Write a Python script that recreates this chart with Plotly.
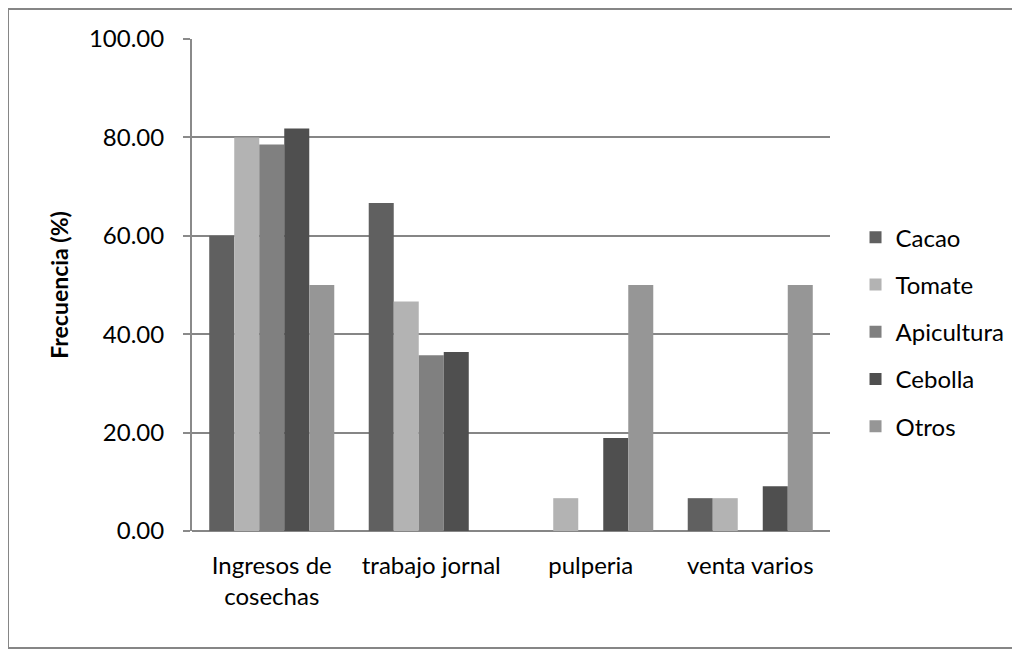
import plotly.graph_objects as go

categories = ["Ingresos de<br>cosechas", "trabajo jornal", "pulperia", "venta varios"]
series_names = ["Cacao", "Tomate", "Apicultura", "Cebolla", "Otros"]
cacao = [60.00, 66.67, 0.0, 6.67]
tomate = [80.00, 46.67, 6.67, 6.67]
apicultura = [78.57, 35.71, 0.0, 0.0]
cebolla = [81.82, 36.36, 18.92, 9.09]
otros = [50.00, 0.0, 50.00, 50.00]
colors = ["#606060", "#b3b3b3", "#808080", "#4f4f4f", "#969696"]
y_ticks = [0, 20, 40, 60, 80, 100]
y_ticklabels = ["0.00", "20.00", "40.00", "60.00", "80.00", "100.00"]

FONT = "Lato, 'Open Sans', sans-serif"

fig = go.Figure()
for i, (name, vals, col) in enumerate(zip(series_names, [cacao, tomate, apicultura, cebolla, otros], colors)):
    fig.add_trace(go.Bar(name=name, x=categories, y=vals, legendgroup=f"g{i}",
                         marker=dict(color=col, line=dict(width=0))))

fig.update_layout(
    width=1012, height=642,
    margin=dict(l=184, r=190, t=31, b=119, autoexpand=False),
    paper_bgcolor="white", plot_bgcolor="white",
    barmode="group", bargap=0.216, bargroupgap=0,
    font=dict(family=FONT, size=24, color="#000000"),
    legend=dict(x=1.04, y=0.405, xanchor="left", yanchor="middle",
                font=dict(size=24), tracegroupgap=13, itemsizing="constant",
                traceorder="grouped"),
    xaxis=dict(showgrid=False, showline=False, ticks="", tickfont=dict(size=24),
               ticklabelstandoff=18),
    yaxis=dict(range=[0, 100], tickvals=y_ticks, ticktext=y_ticklabels,
               showgrid=True, gridcolor="#868686", gridwidth=2,
               showline=True, linecolor="#8a8a8a", linewidth=2,
               ticks="outside", ticklen=7, tickcolor="#8a8a8a", tickwidth=2,
               ticklabelstandoff=14,
               zeroline=True, zerolinecolor="#868686", zerolinewidth=2,
               title=dict(text="<b>Frecuencia (%)</b>", font=dict(size=23), standoff=14)),
    shapes=[dict(type="rect", xref="paper", yref="paper",
                 x0=-0.2884, x1=1.45, y0=-0.2378, y1=1.061,
                 line=dict(color="#868686", width=2), fillcolor="rgba(0,0,0,0)", layer="below")],
)

fig.write_html("out.html")
